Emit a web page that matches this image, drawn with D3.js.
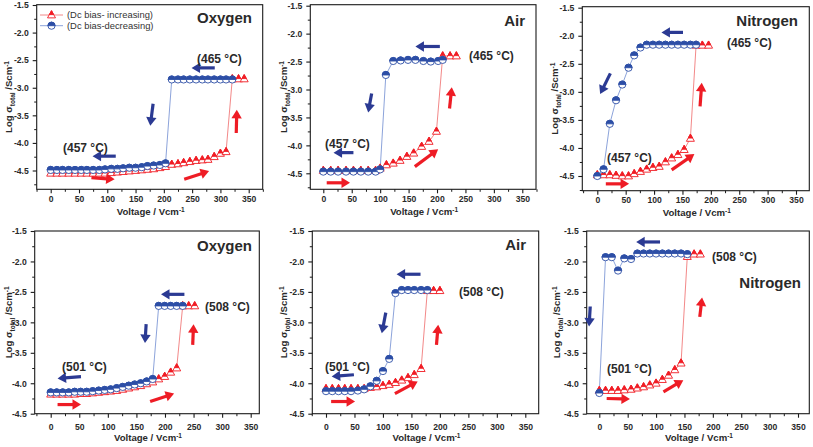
<!DOCTYPE html>
<html><head><meta charset="utf-8">
<script src="https://cdn.jsdelivr.net/npm/d3@7"></script>
<style>
html,body{margin:0;padding:0;background:#fff;}
svg{display:block;font-family:"Liberation Sans",Arial,sans-serif;}
</style></head><body>
<svg id="chart" width="813" height="447"></svg>
<script>
// ---------- ticks & labels ----------
const xTickValues = [0, 50, 100, 150, 200, 250, 300, 350];
const xMinorValues = [-25, 25, 75, 125, 175, 225, 275, 325, 375];
const yTickValues = [-1.5, -2.0, -2.5, -3.0, -3.5, -4.0, -4.5];
const yMinorValues = [-1.75, -2.25, -2.75, -3.25, -3.75, -4.25, -4.75];
const gasNames = ["Oxygen", "Air", "Nitrogen", "Oxygen", "Air", "Nitrogen"];
const highTempLabels = ["(465 °C)", "(465 °C)", "(465 °C)", "(508 °C)", "(508 °C)", "(508 °C)"];
const lowTempLabels = ["(457 °C)", "(457 °C)", "(457 °C)", "(501 °C)", "(501 °C)", "(501 °C)"];
const legendLabels = ["(Dc bias- increasing)", "(Dc bias-decreasing)"];

// ---------- data (Voltage / Vcm-1, log sigma) ----------
// Panel 1 : Oxygen 457/465 °C
const p1IncX = [0,11,21,32,43,54,64,75,86,96,107,118,128,139,150,161,171,182,193,203,214,225,235,246,257,268,278,289,300,310,321,332,342];
const p1IncY = [-4.55,-4.55,-4.55,-4.55,-4.55,-4.55,-4.55,-4.55,-4.55,-4.55,-4.54,-4.53,-4.52,-4.51,-4.50,-4.49,-4.48,-4.47,-4.45,-4.43,-4.39,-4.38,-4.36,-4.34,-4.32,-4.31,-4.30,-4.25,-4.19,-4.16,-2.84,-2.84,-2.84];
const p1DecX = [0,11,21,32,43,54,64,75,86,96,107,118,128,139,150,161,171,182,193,203,214,225,235,246,257,268,278,289,300,310,321];
const p1DecY = [-4.49,-4.49,-4.49,-4.49,-4.49,-4.49,-4.49,-4.49,-4.49,-4.48,-4.47,-4.47,-4.46,-4.45,-4.45,-4.44,-4.42,-4.41,-4.40,-4.37,-2.85,-2.85,-2.85,-2.85,-2.85,-2.85,-2.85,-2.85,-2.85,-2.85,-2.85];
// Panel 2 : Air 457/465 °C
const p2IncX = [0,13,26,40,53,66,79,92,100,111,123,135,147,159,173,186,199,210,223,234];
const p2IncY = [-4.45,-4.45,-4.45,-4.45,-4.45,-4.45,-4.45,-4.45,-4.41,-4.35,-4.32,-4.27,-4.20,-4.14,-4.02,-3.93,-3.75,-2.40,-2.40,-2.40];
const p2DecX = [0,13,26,40,53,66,79,92,100,110,123,136,149,162,176,189,202,210];
const p2DecY = [-4.47,-4.47,-4.47,-4.47,-4.47,-4.47,-4.47,-4.47,-4.43,-2.74,-2.49,-2.48,-2.47,-2.47,-2.49,-2.50,-2.49,-2.47];
// Panel 3 : Nitrogen 457/465 °C
const p3IncX = [0,11,22,33,44,55,65,76,87,98,109,120,131,142,153,164,174,185,196];
const p3IncY = [-4.48,-4.48,-4.48,-4.49,-4.50,-4.50,-4.46,-4.42,-4.38,-4.35,-4.33,-4.25,-4.18,-4.12,-4.03,-3.83,-2.17,-2.17,-2.17];
const p3DecX = [0,11,22,33,44,55,65,76,87,98,109,120,131,142,153,164,174];
const p3DecY = [-4.50,-4.38,-3.57,-3.15,-2.87,-2.57,-2.35,-2.21,-2.16,-2.16,-2.16,-2.16,-2.16,-2.16,-2.16,-2.16,-2.16];
// Panel 4 : Oxygen 501/508 °C
const p4IncX = [0,10.5,21,31.5,42,52.5,63,73.5,84,94.5,105,115.5,126,136.5,147,157.5,168,178.5,189,199.5,210,220.5,231,241.5,252];
const p4IncY = [-4.18,-4.18,-4.18,-4.18,-4.18,-4.17,-4.17,-4.16,-4.15,-4.14,-4.13,-4.12,-4.10,-4.08,-4.06,-4.04,-4.01,-3.98,-3.93,-3.89,-3.82,-3.75,-2.73,-2.73,-2.73];
const p4DecX = [0,10.5,21,31.5,42,52.5,63,73.5,84,94.5,105,115.5,126,136.5,147,157.5,168,178.5,189,199.5,210,220.5,231];
const p4DecY = [-4.15,-4.15,-4.15,-4.15,-4.14,-4.14,-4.14,-4.13,-4.12,-4.11,-4.10,-4.08,-4.06,-4.04,-4.02,-4.00,-3.97,-3.93,-2.73,-2.73,-2.73,-2.73,-2.73];
// Panel 5 : Air 501/508 °C
const p5IncX = [0,11,22,33,44,56,67,78,89,100,111,122,133,144,155,167,178,189,200];
const p5IncY = [-4.09,-4.09,-4.09,-4.09,-4.09,-4.09,-4.09,-4.07,-4.06,-4.04,-4.02,-3.99,-3.95,-3.91,-3.86,-3.76,-2.48,-2.48,-2.48];
const p5DecX = [0,11,22,33,44,56,67,78,89,100,111,122,133,144,155,167,178];
const p5DecY = [-4.13,-4.13,-4.13,-4.13,-4.13,-4.12,-4.10,-4.05,-3.96,-3.80,-3.60,-2.52,-2.47,-2.47,-2.47,-2.47,-2.47];
// Panel 6 : Nitrogen 501/508 °C
const p6IncX = [0,11,22,33,44,56,67,78,89,100,111,122,133,144,155,167,178];
const p6IncY = [-4.12,-4.12,-4.12,-4.12,-4.11,-4.10,-4.08,-4.06,-4.03,-4.00,-3.94,-3.87,-3.78,-3.67,-1.92,-1.88,-1.88];
const p6DecX = [0,11,22,33,44,56,67,78,89,100,111,122,133,144,155];
const p6DecY = [-4.16,-1.93,-1.93,-2.15,-1.95,-1.96,-1.87,-1.87,-1.87,-1.87,-1.87,-1.87,-1.87,-1.87,-1.88];

// arrows (data coordinates: x1,y1 -> x2,y2)
const p1BlueArrows = [[290,-2.64,249,-2.64],[181,-3.29,176,-3.69],[115,-4.24,74,-4.24]];
const p1RedArrows  = [[72,-4.63,113,-4.66],[236,-4.66,280,-4.51],[328,-3.82,329,-3.40]];
const p2BlueArrows = [[205,-2.23,162,-2.23],[85,-3.07,79,-3.41],[53,-4.13,18,-4.13]];
const p2RedArrows  = [[6,-4.67,47,-4.67],[161,-4.38,202,-4.07],[222,-3.34,226,-2.96]];
const p3BlueArrows = [[151,-1.94,113,-1.94],[23,-2.67,5,-3.04]];
const p3RedArrows  = [[15,-4.64,56,-4.64],[131,-4.39,171,-4.11],[181,-3.26,184,-2.84]];
const p4BlueArrows = [[234,-2.54,193,-2.54],[167,-3.03,165,-3.34],[53,-3.89,12,-3.92]];
const p4RedArrows  = [[12,-4.35,53,-4.35],[174,-4.30,216,-4.17],[248.5,-3.37,250,-3.03]];
const p5BlueArrows = [[166,-2.21,124,-2.21],[105,-2.84,98,-3.18],[49,-3.86,10,-3.89]];
const p5RedArrows  = [[9,-4.30,51,-4.30],[121,-4.17,161,-3.97],[194,-3.37,197,-3.04]];
const p6BlueArrows = [[107,-1.68,65,-1.68],[-16,-2.74,-18,-3.07]];
const p6RedArrows  = [[13,-4.25,54,-4.26],[113,-4.14,148,-3.95],[177,-2.91,181,-2.59]];

// ---------- layout ----------
const layout = [
  {x0:50.7, x350:248.7, yA:5, yB:170.5, L:36.7, R:262.7, T:4.7, B:189.3, tickLab:202.5, xTitle:215, yTitleX:12,
   hi:[197,63], lo:[63,152], gas:[252,23,"end"], legend:true},
  {x0:323.3, x350:522.3, yA:5.7, yB:173.3, L:310.3, R:536, T:4.7, B:189.3, tickLab:202.5, xTitle:215, yTitleX:287,
   hi:[469,60], lo:[325,148], gas:[525,26,"end"]},
  {x0:597.3, x350:796, yA:7.7, yB:176, L:582.3, R:809.3, T:6.7, B:190.7, tickLab:203.5, xTitle:216, yTitleX:558,
   hi:[727,47], lo:[607,162], gas:[798,26,"end"]},
  {x0:50.7, x350:250.7, yA:231, yB:413.7, L:34.7, R:259.3, T:231, B:413.7, tickLab:430.5, xTitle:441, yTitleX:12,
   hi:[205,311], lo:[62,371], gas:[252,251,"end"]},
  {x0:326, x350:525.3, yA:231, yB:413.7, L:312.3, R:538.7, T:231, B:413.7, tickLab:430.5, xTitle:441, yTitleX:287,
   hi:[459,296], lo:[325,371], gas:[526,250,"end"]},
  {x0:599.3, x350:798, yA:231, yB:413.7, L:586.7, R:809.3, T:231, B:413.7, tickLab:430.5, xTitle:441, yTitleX:560,
   hi:[712,261], lo:[607,373], gas:[801,288,"end"]}
];
const panelData = [
  {incX:p1IncX, incY:p1IncY, decX:p1DecX, decY:p1DecY, blueArrows:p1BlueArrows, redArrows:p1RedArrows},
  {incX:p2IncX, incY:p2IncY, decX:p2DecX, decY:p2DecY, blueArrows:p2BlueArrows, redArrows:p2RedArrows},
  {incX:p3IncX, incY:p3IncY, decX:p3DecX, decY:p3DecY, blueArrows:p3BlueArrows, redArrows:p3RedArrows},
  {incX:p4IncX, incY:p4IncY, decX:p4DecX, decY:p4DecY, blueArrows:p4BlueArrows, redArrows:p4RedArrows},
  {incX:p5IncX, incY:p5IncY, decX:p5DecX, decY:p5DecY, blueArrows:p5BlueArrows, redArrows:p5RedArrows},
  {incX:p6IncX, incY:p6IncY, decX:p6DecX, decY:p6DecY, blueArrows:p6BlueArrows, redArrows:p6RedArrows}
];

const RED = "#f01c24", RED_LINE = "#f07a7a";
const BLUE = "#2c4ea6", BLUE_LINE = "#7f98d6";
const ARROW_BLUE = "#2b3a93", ARROW_RED = "#ee1c25";
const TEXT = "#2a2a2a";

const svg = d3.select("#chart");

function halfCircle(g, cx, cy, r) {
  g.append("circle").attr("cx", cx).attr("cy", cy).attr("r", r)
    .attr("fill", "#fff").attr("stroke", BLUE).attr("stroke-width", 0.9);
  g.append("path")
    .attr("d", `M${cx - r},${cy} A${r},${r} 0 0 1 ${cx + r},${cy} Z`)
    .attr("fill", BLUE).attr("stroke", BLUE).attr("stroke-width", 0.9);
}
function halfTriangle(g, cx, cy, s) {
  const h = s * 0.9, w = s / 2;
  const top = cy - h * 0.6, bot = cy + h * 0.4;
  g.append("path").attr("d", `M${cx},${top} L${cx + w},${bot} L${cx - w},${bot} Z`)
    .attr("fill", "#fff").attr("stroke", RED).attr("stroke-width", 0.9);
  const f = 0.55;
  g.append("path").attr("d", `M${cx},${top} L${cx + w * f},${top + h * f} L${cx - w * f},${top + h * f} Z`)
    .attr("fill", RED).attr("stroke", RED).attr("stroke-width", 0.9);
}
function arrow(g, x1, y1, x2, y2, color) {
  const dx = x2 - x1, dy = y2 - y1, len = Math.hypot(dx, dy);
  const ux = dx / len, uy = dy / len;
  const hl = 8.5, hw = 5.2;
  const bx = x2 - ux * hl, by = y2 - uy * hl;
  g.append("line").attr("x1", x1).attr("y1", y1).attr("x2", bx + ux * 1).attr("y2", by + uy * 1)
    .attr("stroke", color).attr("stroke-width", 3.2);
  g.append("path").attr("d",
    `M${x2},${y2} L${bx - uy * hw},${by + ux * hw} L${bx + uy * hw},${by - ux * hw} Z`)
    .attr("fill", color);
}

layout.forEach((lay, i) => {
  const d = panelData[i];
  const g = svg.append("g");
  const x = d3.scaleLinear().domain([0, 350]).range([lay.x0, lay.x350]);
  const y = d3.scaleLinear().domain([-1.5, -4.5]).range([lay.yA, lay.yB]);
  const xMin = x.invert(lay.L), xMax = x.invert(lay.R);
  const yMin = y.invert(lay.B), yMax = y.invert(lay.T);

  // frame
  g.append("rect").attr("x", lay.L).attr("y", lay.T)
    .attr("width", lay.R - lay.L).attr("height", lay.B - lay.T)
    .attr("fill", "none").attr("stroke", "#1a1a1a").attr("stroke-width", 1.1);

  // x axis
  const xAxis = d3.axisBottom(x).tickValues(xTickValues).tickSize(4).tickPadding(2)
    .tickFormat(d3.format("d"));
  const gx = g.append("g").attr("transform", `translate(0,${lay.B})`).call(xAxis);
  gx.select(".domain").remove();
  gx.selectAll(".tick line").attr("stroke", "#1a1a1a").attr("stroke-width", 1.1);
  gx.selectAll(".tick text").attr("y", lay.tickLab - lay.B).attr("dy", 0)
    .attr("font-size", 8.6).attr("font-weight", "bold").attr("fill", TEXT)
    .attr("font-family", '"Liberation Sans", Arial, sans-serif');
  const xMinor = d3.axisBottom(x).tickValues(xMinorValues.filter(v => v >= xMin - 1 && v <= xMax + 1))
    .tickSize(2.5).tickFormat("");
  const gxm = g.append("g").attr("transform", `translate(0,${lay.B})`).call(xMinor);
  gxm.select(".domain").remove();
  gxm.selectAll(".tick line").attr("stroke", "#1a1a1a").attr("stroke-width", 1);

  // y axis
  const yAxis = d3.axisLeft(y).tickValues(yTickValues).tickSize(4).tickPadding(4)
    .tickFormat(d3.format(".1f"));
  const gy = g.append("g").attr("transform", `translate(${lay.L},0)`).call(yAxis);
  gy.select(".domain").remove();
  gy.selectAll(".tick line").attr("stroke", "#1a1a1a").attr("stroke-width", 1.1);
  gy.selectAll(".tick text").attr("font-size", 8.6).attr("font-weight", "bold").attr("fill", TEXT)
    .attr("font-family", '"Liberation Sans", Arial, sans-serif')
    .text(v => d3.format(".1f")(v).replace("−", "-"));
  const yMinor = d3.axisLeft(y).tickValues(yMinorValues.filter(v => v >= yMin && v <= yMax))
    .tickSize(2.5).tickFormat("");
  const gym = g.append("g").attr("transform", `translate(${lay.L},0)`).call(yMinor);
  gym.select(".domain").remove();
  gym.selectAll(".tick line").attr("stroke", "#1a1a1a").attr("stroke-width", 1);

  // axis titles
  const xt = g.append("text").attr("x", (lay.L + lay.R) / 2 + 1).attr("y", lay.xTitle)
    .attr("text-anchor", "middle").attr("font-size", 9.6).attr("font-weight", "bold").attr("fill", TEXT);
  xt.append("tspan").text("Voltage / Vcm");
  xt.append("tspan").attr("dy", -3.5).attr("font-size", 6.5).text("-1");

  const yt = g.append("text")
    .attr("transform", `translate(${lay.yTitleX},${(lay.T + lay.B) / 2}) rotate(-90)`)
    .attr("text-anchor", "middle").attr("font-size", 9.6).attr("font-weight", "bold").attr("fill", TEXT);
  yt.append("tspan").text("Log σ");
  yt.append("tspan").attr("dy", 2.5).attr("font-size", 6.5).text("total");
  yt.append("tspan").attr("dy", -2.5).text(" /Scm");
  yt.append("tspan").attr("dy", -3.5).attr("font-size", 6.5).text("-1");

  // lines
  const incPts = d.incX.map((v, k) => [v, d.incY[k]]);
  const decPts = d.decX.map((v, k) => [v, d.decY[k]]);
  const line = d3.line().x(p => x(p[0])).y(p => y(p[1]));
  g.append("path").attr("d", line(incPts)).attr("fill", "none").attr("stroke", RED_LINE).attr("stroke-width", 0.9);
  g.append("path").attr("d", line(decPts)).attr("fill", "none").attr("stroke", BLUE_LINE).attr("stroke-width", 0.9);

  // markers
  const mg = g.append("g");
  incPts.forEach(p => halfTriangle(mg, x(p[0]), y(p[1]), 8));
  decPts.forEach(p => halfCircle(mg, x(p[0]), y(p[1]), 3.6));

  // arrows
  d.blueArrows.forEach(a => arrow(g, x(a[0]), y(a[1]), x(a[2]), y(a[3]), ARROW_BLUE));
  d.redArrows.forEach(a => arrow(g, x(a[0]), y(a[1]), x(a[2]), y(a[3]), ARROW_RED));

  // labels
  g.append("text").attr("x", lay.hi[0]).attr("y", lay.hi[1]).attr("font-size", 12)
    .attr("font-weight", "bold").attr("fill", TEXT).text(highTempLabels[i]);
  g.append("text").attr("x", lay.lo[0]).attr("y", lay.lo[1]).attr("font-size", 12)
    .attr("font-weight", "bold").attr("fill", TEXT).text(lowTempLabels[i]);
  g.append("text").attr("x", lay.gas[0]).attr("y", lay.gas[1]).attr("text-anchor", lay.gas[2])
    .attr("font-size", 15).attr("font-weight", "bold").attr("fill", TEXT).text(gasNames[i]);

  if (lay.legend) {
    const lg = g.append("g");
    lg.append("line").attr("x1", 40).attr("x2", 63).attr("y1", 15).attr("y2", 15)
      .attr("stroke", RED_LINE).attr("stroke-width", 0.9);
    halfTriangle(lg, 51.5, 15, 8);
    lg.append("text").attr("x", 67).attr("y", 18.3).attr("font-size", 9.4).attr("fill", "#333")
      .text(legendLabels[0]);
    lg.append("line").attr("x1", 40).attr("x2", 63).attr("y1", 25.7).attr("y2", 25.7)
      .attr("stroke", BLUE_LINE).attr("stroke-width", 0.9);
    halfCircle(lg, 51.5, 25.7, 3.6);
    lg.append("text").attr("x", 67).attr("y", 29).attr("font-size", 9.4).attr("fill", "#333")
      .text(legendLabels[1]);
  }
});
</script>
</body></html>
